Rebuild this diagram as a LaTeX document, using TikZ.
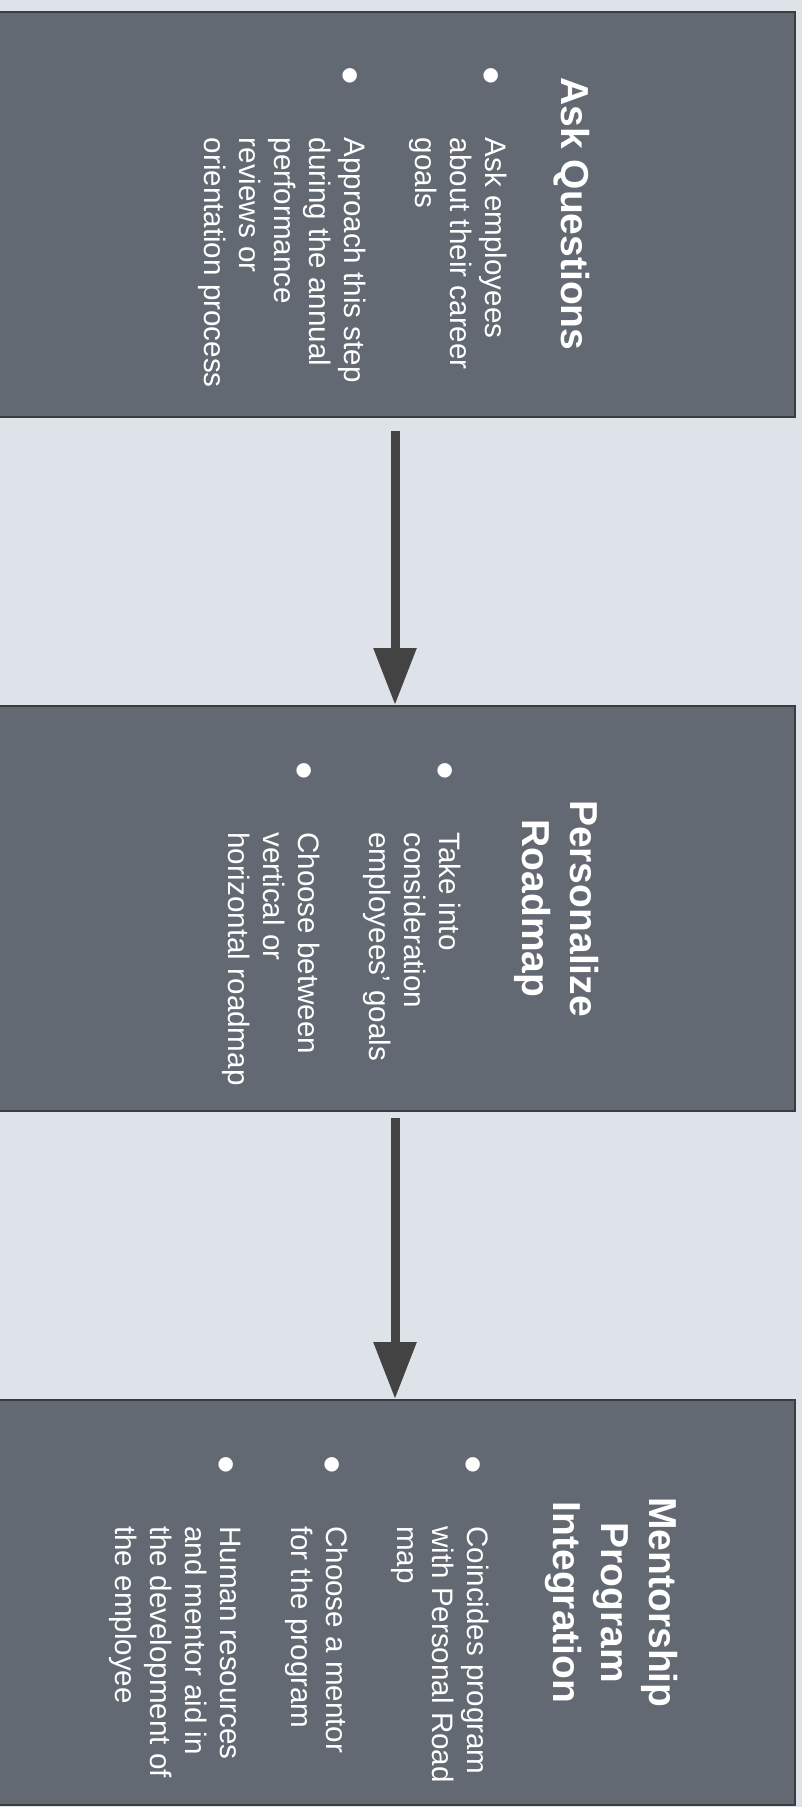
\documentclass[tikz,border=0pt]{standalone}
\usepackage{fontspec}
\setmainfont{Liberation Sans}
\usetikzlibrary{arrows.meta}

\definecolor{pagebg}{RGB}{222,226,233}
\definecolor{boxfill}{RGB}{99,105,114}
\definecolor{boxline}{RGB}{60,60,60}
\definecolor{arrowgray}{RGB}{67,67,67}

\newcommand{\titlefont}{\fontsize{39}{48}\selectfont\bfseries}
\newcommand{\bodyfont}{\fontsize{29.6}{35}\selectfont}
\newcommand{\stepbullet}{\makebox[71pt][l]{\raisebox{-12pt}{\scalebox{1.8}{\textbullet}}}}
\newcommand{\stepitem}[1]{\par\noindent\llap{\stepbullet}#1}
\newcommand{\steptitle}[1]{\parbox[t]{406pt}{\centering\titlefont #1}}
\newcommand{\steplist}[1]{\parbox[t]{300pt}{\bodyfont\raggedright\parskip=36pt #1}}

\begin{document}
\begin{tikzpicture}[x=1pt,y=1pt,
    stepbox/.style={draw=boxline, line width=2pt, fill=boxfill, minimum width=800pt, minimum height=405pt, inner sep=0pt},
    stephead/.style={rotate=-90, text=white, inner sep=0pt, anchor=base},
    stepbody/.style={rotate=-90, text=white, inner sep=0pt, anchor=base west},
    flow/.style={draw=arrowgray, line width=9pt, -{Triangle[length=57pt,width=41pt]}}]
    % Draw background
    \fill[pagebg] (0,0) rectangle (802,-1807);
    \useasboundingbox (0,0) rectangle (802,-1807);

    % Draw boxes
    \node[stepbox] (ask) at (395,-214) {};
    \node[stepbox] (road) at (395,-908.5) {};
    \node[stepbox] (ment) at (395,-1602.5) {};

    % Draw arrows
    \foreach \a/\b/\s in {ask/road/13, road/ment/6}
      \draw[flow] ([yshift=-\s pt]\a.south) -- (\b.north);

    % Titles, turned to read downwards
    \node[stephead] (askh) at (561,-214) {\steptitle{Ask Questions}};
    \node[stephead] (roadh) at (570,-908.5) {\steptitle{Personalize\\Roadmap}};
    \node[stephead] (menth) at (649,-1602.5) {\steptitle{Mentorship\\Program\\Integration}};

    % Bullet lists
    \node[stepbody] (askl) at (485,-137.5) {\steplist{%
      \stepitem{Ask employees\\about their career\\goals}
      \stepitem{Approach this step\\during the annual\\performance\\reviews or\\orientation process}}};
    \node[stepbody] (roadl) at (439,-832) {\steplist{%
      \stepitem{Take into\\consideration\\employees’ goals}
      \stepitem{Choose between\\vertical or\\horizontal roadmap}}};
    \node[stepbody] (mentl) at (467,-1526) {\steplist{%
      \stepitem{Coincides program\\with Personal Road\\map}
      \stepitem{Choose a mentor\\for the program}
      \stepitem{Human resources\\and mentor aid in\\the development of\\the employee}}};
\end{tikzpicture}
\end{document}
